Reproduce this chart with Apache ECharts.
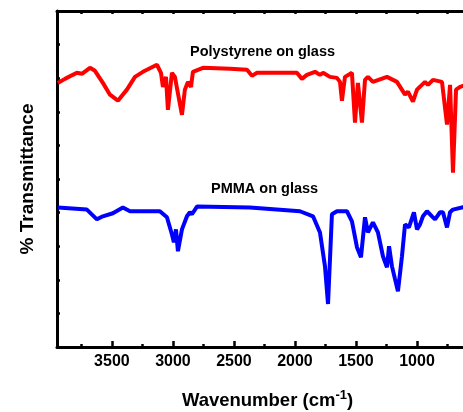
<!DOCTYPE html>
<html>
<head>
<meta charset="utf-8">
<script src="https://cdn.jsdelivr.net/npm/echarts@6/dist/echarts.min.js"></script>
<style>
  html, body { margin: 0; padding: 0; overflow: hidden; background: #fff; }
  #chart { width: 478px; height: 412px; }
</style>
</head>
<body>
<div id="chart"></div>
<script>
// Polystyrene on glass (red)
const psWave = [3943, 3885, 3820, 3787, 3746, 3680, 3639, 3574, 3516, 3451, 3377, 3311, 3246, 3131, 3098, 3082, 3057, 3041, 3008, 2984,
  2926, 2902, 2877, 2852, 2836, 2754, 2533, 2393, 2352, 2311, 1984, 1943, 1902, 1836, 1795, 1770, 1713, 1656, 1631, 1615,
  1590, 1533, 1508, 1484, 1451, 1426, 1402, 1361, 1246, 1164, 1098, 1074, 1033, 1000, 934, 910, 869, 795, 754, 729,
  705, 680, 647, 598]
const psT = [7.86, 7.98, 8.10, 8.16, 8.13, 8.31, 8.22, 7.86, 7.51, 7.33, 7.66, 8.04, 8.19, 8.40, 8.16, 7.74, 8.04, 7.06, 8.16, 8.04,
  6.91, 7.66, 7.89, 7.74, 8.19, 8.31, 8.28, 8.25, 8.07, 8.16, 8.16, 7.98, 8.10, 8.19, 8.10, 8.16, 8.04, 8.01, 7.89, 7.33,
  8.04, 8.16, 6.68, 7.86, 6.68, 7.95, 8.04, 7.89, 8.04, 7.89, 7.51, 7.60, 7.30, 7.66, 7.89, 7.80, 7.95, 7.89, 6.62, 7.80,
  5.19, 7.66, 7.74, 7.80]

// PMMA on glass (blue)
const pmmaWave = [3943, 3705, 3623, 3574, 3492, 3410, 3352, 3107, 3049, 3008, 2992, 2975, 2959, 2926, 2885, 2861, 2844, 2803, 2369, 1959,
  1852, 1795, 1754, 1729, 1697, 1656, 1574, 1533, 1492, 1459, 1426, 1402, 1361, 1320, 1279, 1246, 1229, 1205, 1180, 1156,
  1123, 1098, 1066, 1025, 1000, 975, 951, 918, 877, 852, 811, 787, 754, 729, 705, 598]
const pmmaT = [4.15, 4.09, 3.80, 3.89, 3.98, 4.15, 4.04, 4.04, 3.86, 3.35, 3.12, 3.50, 2.85, 3.50, 3.89, 4.01, 3.95, 4.18, 4.15, 4.04,
  3.89, 3.41, 2.40, 1.28, 3.95, 4.04, 4.04, 3.74, 2.97, 2.67, 3.86, 3.41, 3.71, 3.41, 2.70, 2.37, 3.00, 2.40, 2.02, 1.66,
  2.70, 3.65, 3.56, 4.01, 3.50, 3.65, 3.89, 4.04, 3.89, 3.80, 4.01, 4.01, 3.56, 4.01, 4.09, 4.18]

const xMin = 500
const xMax = 3950

let myChart = echarts.init(document.getElementById('chart'))

// 同一范围的x轴，只改刻度样式
function makeX (position, interval, tickLen, showLabel, showLine) {
  return {
    type: 'value',
    position: position,
    inverse: true,
    min: xMin,
    max: xMax,
    interval: interval,
    splitLine: { show: false },
    axisLine: { show: showLine, onZero: false, lineStyle: { color: '#000', width: 3 } },
    axisTick: { show: true, inside: true, length: tickLen, lineStyle: { color: '#000', width: 2.5 } },
    axisLabel: {
      show: showLabel,
      margin: 7,
      color: '#000',
      fontSize: 16,
      fontWeight: 'bold',
      fontFamily: 'Liberation Sans, Arial, sans-serif',
      showMinLabel: false,
      showMaxLabel: false,
      formatter: v => String(v)
    }
  }
}

let xBottom = makeX('bottom', 500, 6, true, true)
xBottom.name = '{a|Wavenumber (cm}{s|-1}{a|)}'
xBottom.nameLocation = 'middle'
xBottom.nameGap = 42
xBottom.nameTextStyle = {
  rich: {
    a: { fontSize: 18.5, fontWeight: 'bold', color: '#000', fontFamily: 'Liberation Sans, Arial, sans-serif', lineHeight: 24 },
    s: { fontSize: 13, fontWeight: 'bold', color: '#000', fontFamily: 'Liberation Sans, Arial, sans-serif', verticalAlign: 'top', lineHeight: 13 }
  }
}

let option = {
  animation: false,
  backgroundColor: '#fff',
  grid: { left: 57, top: 11, right: 0, bottom: 65, containLabel: false, outerBoundsMode: 'none' },
  xAxis: [
    xBottom,
    makeX('bottom', 250, 3, false, false),
    makeX('top', 250, 3, false, true)
  ],
  yAxis: {
    type: 'value',
    min: 0,
    max: 10,
    interval: 1,
    name: '% Transmittance',
    nameLocation: 'middle',
    nameGap: 20,
    nameTextStyle: { fontSize: 19, fontWeight: 'bold', color: '#000', fontFamily: 'Liberation Sans, Arial, sans-serif' },
    splitLine: { show: false },
    axisLine: { show: true, lineStyle: { color: '#000', width: 3 } },
    axisTick: { show: true, inside: true, length: 3, lineStyle: { color: '#000', width: 2.5 } },
    axisLabel: { show: false }
  },
  graphic: [
    {
      type: 'text', left: 190, top: 44,
      style: { text: 'Polystyrene on glass', fill: '#000', font: 'bold 14.5px "Liberation Sans", Arial, sans-serif' }
    },
    {
      type: 'text', left: 211, top: 181,
      style: { text: 'PMMA on glass', fill: '#000', font: 'bold 14.5px "Liberation Sans", Arial, sans-serif' }
    }
  ],
  series: [
    {
      name: 'Polystyrene on glass',
      type: 'line',
      showSymbol: false,
      data: psWave.map((w, i) => [w, psT[i]]),
      lineStyle: { color: '#ff0000', width: 4 },
      itemStyle: { color: '#ff0000' }
    },
    {
      name: 'PMMA on glass',
      type: 'line',
      showSymbol: false,
      data: pmmaWave.map((w, i) => [w, pmmaT[i]]),
      lineStyle: { color: '#0000ff', width: 4 },
      itemStyle: { color: '#0000ff' }
    }
  ]
}
myChart.setOption(option)
</script>
</body>
</html>
